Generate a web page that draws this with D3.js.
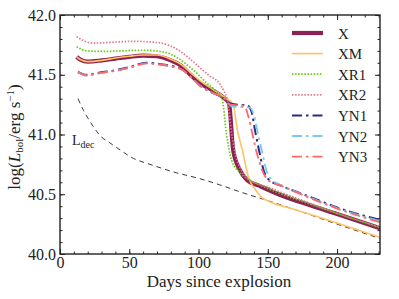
<!DOCTYPE html>
<html><head><meta charset="utf-8">
<script src="https://cdn.jsdelivr.net/npm/d3@7"></script>
<style>
html,body{margin:0;padding:0;background:#fff;}
svg{display:block;}
</style></head>
<body><svg id="c" width="399" height="299" font-family="Liberation Serif"></svg>
<script>
// ---- data ----
const seriesNames = ["X","XM","XR1","XR2","YN1","YN2","YN3"];
const xTicks = [0,50,100,150,200];
const yTicks = [40.0,40.5,41.0,41.5,42.0];
const yTickLabels = ["40.0","40.5","41.0","41.5","42.0"];

const days_X = [12,15,20,30,40,50,60,70,80,87,95,101,110,119,122,125,130,135,145,160,180,200,231];
const lum_X  = [41.65,41.625,41.61,41.62,41.635,41.65,41.66,41.655,41.62,41.58,41.49,41.43,41.37,41.30,41.26,40.87,40.70,40.62,40.565,40.49,40.41,40.335,40.215];

const days_XM = [12,15,20,30,40,50,60,70,80,87,95,101,110,119,125,128,132,136,141,146,151,170,200,231];
const lum_XM  = [41.65,41.625,41.61,41.62,41.64,41.655,41.665,41.665,41.63,41.59,41.51,41.45,41.38,41.31,41.25,41.04,40.85,40.645,40.54,40.47,40.44,40.37,40.26,40.14];

const days_XR1 = [12,16,20,30,45,60,75,85,92,99,105,112,117,120,124,130,135,145,160,180,200,231];
const lum_XR1  = [41.735,41.71,41.70,41.695,41.70,41.705,41.69,41.64,41.58,41.51,41.44,41.37,41.30,41.02,40.78,40.68,40.63,40.575,40.50,40.42,40.34,40.22];

const days_XR2 = [12,16,24,35,53,65,75,85,93,100,108,115,118,121,124,127,132,137,150,170,200,231];
const lum_XR2  = [41.82,41.79,41.765,41.77,41.78,41.775,41.76,41.71,41.64,41.57,41.49,41.43,41.37,41.28,41.00,40.82,40.68,40.62,40.56,40.47,40.34,40.225];

const days_YN1 = [13,19,30,41,52,62,72,80,89,95,101,110,119,123,128,135,138,141,144,147,151,160,180,200,231];
const lum_YN1  = [41.525,41.50,41.52,41.54,41.57,41.60,41.59,41.575,41.54,41.48,41.41,41.35,41.30,41.26,41.25,41.245,41.20,41.02,40.85,40.70,40.62,40.57,40.48,40.39,40.285];

const days_YN2 = [13,19,30,41,52,62,72,80,89,95,101,110,119,124,130,137,140,143,146,149,153,160,180,200,231];
const lum_YN2  = [41.52,41.495,41.515,41.535,41.565,41.595,41.585,41.57,41.535,41.475,41.41,41.35,41.30,41.235,41.23,41.225,41.16,41.00,40.85,40.70,40.62,40.575,40.475,40.385,40.275];

const days_YN3 = [13,19,30,41,52,62,72,80,89,95,101,110,119,123,128,133,136,139,142,146,150,160,180,200,231];
const lum_YN3  = [41.52,41.495,41.515,41.535,41.565,41.595,41.585,41.57,41.535,41.475,41.41,41.35,41.30,41.25,41.245,41.24,41.15,41.00,40.85,40.70,40.62,40.57,40.47,40.38,40.265];

const days_Ldec = [13,17,20,25,29,36,41,53,65,84,101,115,130,149,170,200,231];
const lum_Ldec  = [41.30,41.20,41.14,41.05,40.99,40.93,40.89,40.80,40.75,40.68,40.63,40.58,40.52,40.45,40.37,40.25,40.13];

// ---- styles ----
const styles = {
  X:   {color:"#8c2155", width:4.2, dash:null},
  XM:  {color:"#ffc366", width:1.6, dash:null},
  XR1: {color:"#5fcc10", width:1.7, dash:"1.5,1.6"},
  XR2: {color:"#e07888", width:1.7, dash:"1.5,1.6"},
  YN1: {color:"#2a2a8c", width:2.0, dash:"10,4,2.5,4"},
  YN2: {color:"#78c8f0", width:1.8, dash:"10,4,2.5,4"},
  YN3: {color:"#ff6868", width:1.8, dash:"10,4,2.5,4"}
};
const seriesData = {
  X:[days_X,lum_X], XM:[days_XM,lum_XM], XR1:[days_XR1,lum_XR1], XR2:[days_XR2,lum_XR2],
  YN1:[days_YN1,lum_YN1], YN2:[days_YN2,lum_YN2], YN3:[days_YN3,lum_YN3]
};

const FF = "Liberation Serif";
const L=60, R=380, T=15, B=254;
const svg = d3.select("#c");
const x = d3.scaleLinear().domain([0,231]).range([L,R]);
const y = d3.scaleLinear().domain([40,42]).range([B,T]);

const plot = svg.append("g");
plot.append("defs").append("clipPath").attr("id","clip")
  .append("rect").attr("x",L).attr("y",T).attr("width",R-L).attr("height",B-T);

const line = d3.line().x(d=>x(d[0])).y(d=>y(d[1])).curve(d3.curveMonotoneX);
const g = plot.append("g").attr("clip-path","url(#clip)");

// decay line
g.append("path").datum(d3.zip(days_Ldec,lum_Ldec)).attr("d",line)
  .attr("fill","none").attr("stroke","#222").attr("stroke-width",0.9).attr("stroke-dasharray","5,4");

seriesNames.forEach(n=>{
  const s = styles[n];
  g.append("path").datum(d3.zip(seriesData[n][0],seriesData[n][1])).attr("d",line)
    .attr("fill","none").attr("stroke",s.color).attr("stroke-width",s.width)
    .attr("stroke-linejoin","round")
    .attr("stroke-dasharray",s.dash);
});

// Ldec label
const lt = svg.append("text").attr("x",72).attr("y",145).attr("font-size",14).attr("font-family",FF).attr("fill","#222");
lt.append("tspan").text("L");
lt.append("tspan").attr("dy",3).attr("font-size",10).text("dec");

// axes (ticks inward on all sides)
const minorX = d3.range(0,231,10), minorY = d3.range(40,42.001,0.1);
function axes(){
  svg.append("g").attr("transform",`translate(0,${B})`)
    .call(d3.axisBottom(x).tickValues(xTicks).tickSizeInner(-5).tickSizeOuter(0).tickPadding(3).tickFormat(d3.format("d")));
  svg.append("g").attr("transform",`translate(0,${B})`)
    .call(d3.axisBottom(x).tickValues(minorX).tickSizeInner(-2.5).tickSizeOuter(0).tickFormat(""));
  svg.append("g").attr("transform",`translate(0,${T})`)
    .call(d3.axisTop(x).tickValues(xTicks).tickSizeInner(-5).tickSizeOuter(0).tickFormat(""));
  svg.append("g").attr("transform",`translate(0,${T})`)
    .call(d3.axisTop(x).tickValues(minorX).tickSizeInner(-2.5).tickSizeOuter(0).tickFormat(""));
  svg.append("g").attr("transform",`translate(${L},0)`)
    .call(d3.axisLeft(y).tickValues(yTicks).tickSizeInner(-5).tickSizeOuter(0).tickPadding(4).tickFormat((d,i)=>yTickLabels[i]));
  svg.append("g").attr("transform",`translate(${L},0)`)
    .call(d3.axisLeft(y).tickValues(minorY).tickSizeInner(-2.5).tickSizeOuter(0).tickFormat(""));
  svg.append("g").attr("transform",`translate(${R},0)`)
    .call(d3.axisRight(y).tickValues(yTicks).tickSizeInner(-5).tickSizeOuter(0).tickFormat(""));
  svg.append("g").attr("transform",`translate(${R},0)`)
    .call(d3.axisRight(y).tickValues(minorY).tickSizeInner(-2.5).tickSizeOuter(0).tickFormat(""));
}
axes();
svg.selectAll(".domain").remove();
svg.selectAll("g[font-family]").attr("font-family",FF);
svg.selectAll(".tick line").attr("stroke","#222").attr("stroke-width",1);
svg.selectAll(".tick text").attr("font-family",FF).attr("font-size",16).attr("fill","#222");
svg.append("rect").attr("x",L).attr("y",T).attr("width",R-L).attr("height",B-T)
  .attr("fill","none").attr("stroke","#222").attr("stroke-width",1.4);

// axis titles
svg.append("text").attr("x",219).attr("y",287).attr("text-anchor","middle").attr("font-size",17).attr("font-family",FF).attr("fill","#222")
  .text("Days since explosion");
const yl = svg.append("text").attr("transform","translate(20,137) rotate(-90)").attr("text-anchor","middle")
  .attr("font-size",17).attr("font-family",FF).attr("fill","#222");
yl.append("tspan").text("log(");
yl.append("tspan").attr("font-style","italic").text("L");
yl.append("tspan").attr("font-size",11).attr("dy",3).text("bol");
yl.append("tspan").attr("dy",-3).text("/erg s");
yl.append("tspan").attr("font-size",11).attr("dy",-6).text("\u22121");
yl.append("tspan").attr("dy",6).text(")");

// legend
const legY0 = 33, legDY = 20.6;
seriesNames.forEach((n,i)=>{
  const s = styles[n], yy = legY0 + i*legDY;
  svg.append("line").attr("x1",292).attr("x2",323).attr("y1",yy).attr("y2",yy)
    .attr("stroke",s.color).attr("stroke-width",s.width).attr("stroke-dasharray",s.dash);
  svg.append("text").attr("x",338).attr("y",yy+5.5).attr("font-size",15).attr("font-family",FF).attr("fill","#222").text(n);
});
</script></body></html>
